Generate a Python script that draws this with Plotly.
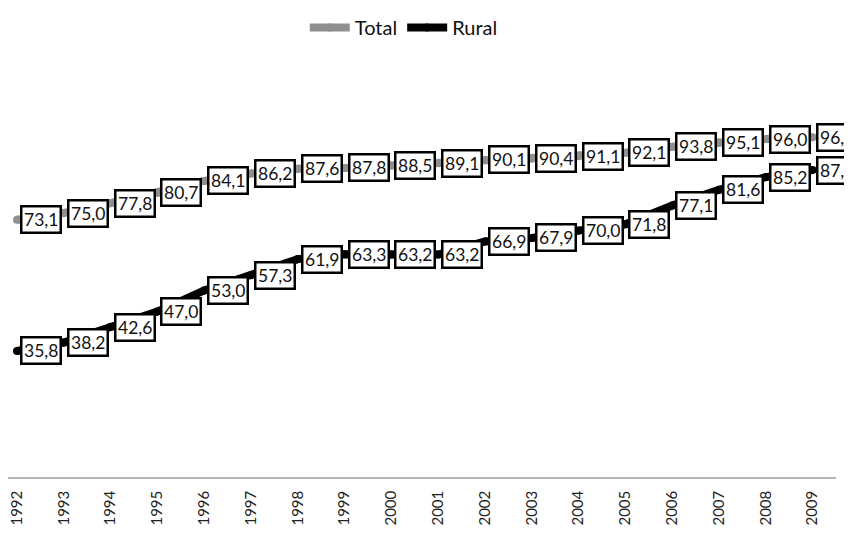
import plotly.graph_objects as go

years = [str(y) for y in range(1992, 2010)]
total = [73.1, 75.0, 77.8, 80.7, 84.1, 86.2, 87.6, 87.8, 88.5, 89.1, 90.1, 90.4, 91.1, 92.1, 93.8, 95.1, 96.0, 96.5]
rural = [35.8, 38.2, 42.6, 47.0, 53.0, 57.3, 61.9, 63.3, 63.2, 63.2, 66.9, 67.9, 70.0, 71.8, 77.1, 81.6, 85.2, 87.2]

series = [("Total", total, "#8f8f8f"), ("Rural", rural, "#000000")]
FONT = "Lato"

fig = go.Figure()
for name, vals, col in series:
    fig.add_trace(go.Scatter(
        x=years, y=vals, name=name, mode="lines+markers",
        line=dict(color=col, width=8),
        marker=dict(color=col, size=8),
    ))

for name, vals, col in series:
    for i, v in enumerate(vals):
        fig.add_annotation(
            x=i, y=v, xref="x", yref="y",
            text=f"{v:.1f}".replace(".", ","),
            showarrow=False, xanchor="left", yanchor="middle", xshift=3,
            font=dict(family=FONT, size=17.5, color="#111111"),
            bgcolor="white", bordercolor="black", borderwidth=2.5, borderpad=1.5,
        )

# page body has an 8px default margin; keep the page height inside the window
fig.update_layout(
    width=844, height=521,
    margin=dict(l=0, r=16, t=113, b=52, pad=0),
    plot_bgcolor="white", paper_bgcolor="white",
    font=dict(family=FONT, color="#111111"),
    showlegend=True,
    legend=dict(orientation="h", x=0.478, xanchor="center", y=1.278, yanchor="middle",
                font=dict(family=FONT, size=20, color="#111111"),
                itemwidth=40, tracegroupgap=0, bgcolor="rgba(0,0,0,0)"),
    xaxis=dict(type="category", categoryorder="array", categoryarray=years,
               range=[-0.192, 17.5], showgrid=False, zeroline=False,
               showline=True, linecolor="#b3b3b3", linewidth=1.5,
               ticks="", tickangle=-90, ticklabelstandoff=6,
               tickfont=dict(family=FONT, size=15, color="#222222")),
    yaxis=dict(range=[0, 100], showgrid=False, zeroline=False, showline=False,
               showticklabels=False, ticks=""),
)

fig.write_html("out.html")
